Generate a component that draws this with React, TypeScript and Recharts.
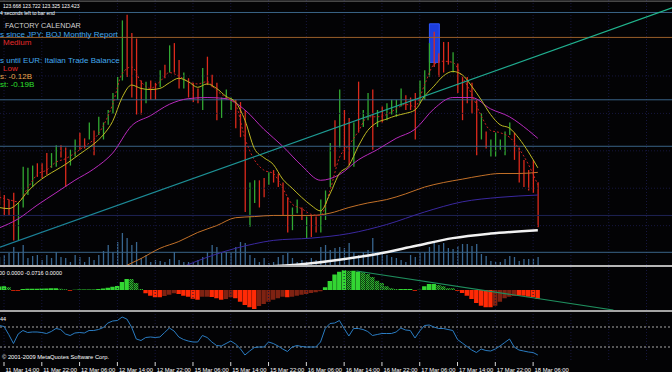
import React from 'react';
import { ComposedChart, Bar, Line, XAxis, YAxis, ReferenceLine, ReferenceArea, Cell } from 'recharts';

// ---------- price data (EURJPY H1) ----------
const highs = [
  123.65, 123.61, 123.57, 123.63, 123.54, 123.86, 123.85, 123.87, 123.89, 123.89,
  123.98, 123.98, 124.05, 124.05, 124.03, 124.01, 124.10, 124.16, 124.11, 124.25,
  124.18, 124.30, 124.25, 124.36, 124.51, 124.65, 125.15, 125.20, 125.04, 124.99,
  124.62, 124.61, 124.62, 124.60, 124.71, 124.76, 124.93, 124.95, 124.80, 124.69,
  124.64, 124.60, 124.55, 124.73, 124.83, 124.67, 124.60, 124.47, 124.54, 124.47,
  124.45, 124.43, 124.36, 123.72, 123.74, 123.74, 123.76, 123.81, 123.83, 123.80,
  123.72, 123.59, 123.50, 123.57, 123.50, 123.42, 123.43, 123.42, 123.57, 123.65,
  124.07, 124.27, 124.54, 124.36, 124.29, 124.25, 124.61, 124.36, 124.51, 124.54,
  124.36, 124.39, 124.42, 124.45, 124.45, 124.55, 124.49, 124.47, 124.51, 124.62,
  124.71, 124.95, 125.05, 124.86, 124.96, 124.96, 124.87, 124.77, 124.65, 124.65,
  124.60, 124.45, 124.33, 124.17, 124.10, 124.16, 124.10, 124.17, 124.25, 124.16,
  124.03, 123.92, 123.83, 123.92, 123.722,
];
const lows = [
  123.52, 123.43, 123.43, 123.21, 123.21, 123.50, 123.61, 123.68, 123.77, 123.76,
  123.79, 123.85, 123.86, 123.94, 123.68, 123.87, 123.95, 124.01, 124.02, 124.10,
  123.96, 124.14, 124.10, 124.23, 124.33, 124.45, 124.62, 124.65, 124.47, 124.32,
  124.32, 124.42, 124.45, 124.45, 124.56, 124.64, 124.69, 124.69, 124.55, 124.55,
  124.47, 124.43, 124.42, 124.36, 124.58, 124.56, 124.27, 124.29, 124.45, 124.36,
  124.20, 124.12, 123.46, 123.33, 123.54, 123.50, 123.59, 123.70, 123.72, 123.68,
  123.43, 123.28, 123.30, 123.45, 123.39, 123.23, 123.24, 123.28, 123.28, 123.39,
  123.68, 123.86, 124.03, 123.92, 123.87, 123.86, 124.16, 124.21, 124.27, 124.01,
  124.21, 124.25, 124.27, 124.32, 124.30, 124.39, 124.36, 124.36, 124.10, 124.42,
  124.45, 124.65, 124.74, 124.65, 124.69, 124.76, 124.69, 124.51, 124.27, 124.42,
  124.33, 123.96, 124.10, 124.02, 123.95, 123.95, 124.01, 123.96, 124.14, 123.92,
  123.72, 123.68, 123.65, 123.63, 123.325,
];
// u = bullish bar, d = bearish bar
const candleDirs = (
  'dddduuuudd' + 'duudduuddu' + 'duuuuuuddd' + 'duddududdu' + 'ddduddduuu' +
  'ddduuddudd' + 'dduududduu' + 'ududduduud' + 'uduuuudddu' + 'uudddduddd' +
  'dduduuuuud' + 'ddddd'
).split('');
const volumes = [
  320, 400, 480, 720, 520, 800, 280, 360, 400, 200,
  400, 280, 520, 320, 280, 120, 400, 320, 120, 320,
  200, 400, 560, 800, 520, 920, 1280, 1080, 800, 920,
  280, 400, 120, 200, 160, 120, 240, 520, 200, 120,
  120, 80, 200, 320, 520, 800, 720, 480, 520, 480,
  720, 920, 880, 400, 280, 120, 280, 80, 120, 320,
  400, 480, 280, 120, 200, 120, 280, 200, 720, 800,
  600, 680, 720, 680, 880, 520, 400, 520, 600, 1080,
  520, 480, 400, 320, 280, 200, 120, 400, 320, 480,
  520, 720, 920, 800, 880, 680, 640, 760, 840, 840,
  760, 840, 440, 360, 160, 120, 120, 240, 360, 320,
  160, 240, 240, 240, 320,
];

// ---------- moving averages (read at sampled bars) ----------
const fastBars = Array.from({ length: 58 }, (_, k) => k * 2);
const yellowMA = [
  123.50, 123.49, 123.54, 123.64, 123.72, 123.78, 123.83, 123.88, 123.94, 124.00,
  124.06, 124.14, 124.26, 124.47, 124.58, 124.55, 124.54, 124.55, 124.60, 124.64,
  124.61, 124.56, 124.59, 124.55, 124.48, 124.43, 124.27, 124.02, 123.94, 123.88,
  123.75, 123.67, 123.59, 123.52, 123.47, 123.62, 123.80, 123.87, 124.04, 124.18,
  124.25, 124.28, 124.31, 124.33, 124.36, 124.48, 124.57, 124.66, 124.70, 124.67,
  124.57, 124.45, 124.32, 124.23, 124.20, 124.11, 123.99, 123.85,
];
const redMA = [
  123.59, 123.57, 123.55, 123.67, 123.79, 123.83, 123.90, 123.93, 123.98, 124.04,
  124.10, 124.22, 124.41, 124.68, 124.74, 124.61, 124.55, 124.61, 124.69, 124.66,
  124.61, 124.59, 124.61, 124.53, 124.47, 124.41, 124.11, 123.92, 123.83, 123.80,
  123.67, 123.53, 123.49, 123.44, 123.43, 123.65, 123.94, 124.05, 124.17, 124.30,
  124.30, 124.32, 124.37, 124.41, 124.39, 124.58, 124.76, 124.79, 124.78, 124.65,
  124.50, 124.31, 124.18, 124.16, 124.12, 124.02, 123.88, 123.70,
];
const magentaBars = [0, 4, 8, 12, 16, 20, 24, 28, 32, 36, 40, 44, 48, 52, 56, 60, 64, 68, 72, 76, 80, 84, 88, 92, 96, 100, 104, 108, 112, 114];
const magentaMA = [
  123.32, 123.40, 123.52, 123.63, 123.74, 123.84, 123.98, 124.22, 124.31, 124.41,
  124.46, 124.47, 124.46, 124.36, 124.19, 124.04, 123.87, 123.74, 123.79, 123.92,
  124.01, 124.11, 124.19, 124.37, 124.47, 124.47, 124.37, 124.30, 124.18, 124.11,
];
const orangeBars = [27, 30, 34, 38, 42, 46, 50, 54, 58, 62, 66, 70, 74, 78, 82, 86, 90, 94, 98, 102, 106, 110, 114];
const orangeMA = [
  122.99, 123.05, 123.14, 123.20, 123.28, 123.34, 123.41, 123.42, 123.43, 123.43,
  123.43, 123.45, 123.50, 123.54, 123.57, 123.62, 123.68, 123.72, 123.75, 123.78,
  123.80, 123.80, 123.81,
];
const purpleBars = [39, 42, 46, 50, 54, 58, 66, 74, 82, 90, 98, 106, 114];
const purpleMA = [122.98, 123.03, 123.09, 123.14, 123.18, 123.21, 123.23, 123.27, 123.35, 123.46, 123.55, 123.59, 123.61];
const whiteBars = [57, 64, 72, 80, 88, 96, 104, 114];
const whiteMA = [122.98, 123.00, 123.04, 123.09, 123.16, 123.23, 123.27, 123.30];

// ---------- oscillators ----------
const osma = [
  0.028, 0.030, 0.022, -0.006, -0.006, 0.008, 0.010, 0.010, 0.010, 0.012,
  0.012, 0.014, 0.014, 0.010, 0.006, -0.006, 0.002, 0.004, 0.004, 0.004,
  0.004, 0.008, 0.012, 0.018, 0.026, 0.032, 0.064, 0.088, 0.088, 0.056,
  0.008, -0.026, -0.046, -0.058, -0.058, -0.048, -0.038, -0.026, -0.032, -0.046,
  -0.054, -0.070, -0.078, -0.054, -0.054, -0.056, -0.066, -0.078, -0.072, -0.058,
  -0.066, -0.094, -0.120, -0.138, -0.152, -0.128, -0.112, -0.094, -0.078, -0.066,
  -0.054, -0.058, -0.054, -0.046, -0.038, -0.032, -0.024, -0.018, -0.010, 0.022,
  0.072, 0.124, 0.146, 0.158, 0.154, 0.154, 0.146, 0.142, 0.128, 0.104,
  0.074, 0.056, 0.030, 0.014, 0.008, 0.008, 0.008, 0.008, -0.006, 0.002,
  0.030, 0.048, 0.048, 0.040, 0.030, 0.014, 0.014, -0.006, -0.024, -0.046,
  -0.072, -0.104, -0.126, -0.138, -0.138, -0.126, -0.094, -0.066, -0.054, -0.048,
  -0.046, -0.046, -0.054, -0.058, -0.0716,
];
// b = bright colour, d = dark colour
const osmaShade = (
  'bbdbbbbbbb' + 'bbbddbbbbb' + 'bbbbbbbbdd' + 'dbbbbdddbb' + 'bbbddbbbdd' +
  'bbbbbddddd' + 'dbdddddddb' + 'bbbbdbbddd' + 'dddddbbbbb' + 'bbbddddbbb' +
  'bbbbbddddd' + 'bbbbb'
).split('');
const rsi = [
  73, 71, 55, 37, 56, 63, 59, 60, 60, 59,
  57, 61, 67, 65, 56, 53, 58, 59, 58, 63,
  63, 65, 69, 78, 82, 83, 90, 86, 70, 46,
  43, 49, 50, 49, 50, 59, 68, 62, 50, 45,
  42, 40, 40, 53, 49, 40, 33, 32, 37, 42,
  36, 27, 14, 22, 29, 30, 30, 40, 37, 32,
  26, 21, 30, 33, 31, 30, 30, 30, 40, 67,
  77, 78, 83, 67, 52, 67, 67, 65, 61, 53,
  55, 57, 57, 57, 60, 68, 64, 63, 48, 62,
  73, 74, 70, 67, 67, 65, 63, 45, 38, 31,
  24, 19, 26, 23, 22, 26, 32, 39, 46, 30,
  24, 22, 20, 19, 14,
];

// ---------- axis / objects ----------
const tickBars = [1, 9, 17, 25, 33, 41, 49, 57, 65, 73, 81, 89, 97, 105, 113];
const tickLabels = [
  '11 Mar 14:00', '11 Mar 22:00', '12 Mar 06:00', '12 Mar 14:00', '12 Mar 22:00',
  '15 Mar 06:00', '15 Mar 14:00', '15 Mar 22:00', '16 Mar 06:00', '16 Mar 14:00',
  '16 Mar 22:00', '17 Mar 06:00', '17 Mar 14:00', '17 Mar 22:00', '18 Mar 06:00',
];
const gridBars = [...tickBars, 121, 129, 137];
const gridPrices = [123.34, 123.67, 124.0, 124.33, 124.66];
const levelLines = [
  { price: 125.32, color: '#6e6e6e' },
  { price: 125.22, color: '#3a6487' },
  { price: 125.0, color: '#9a5f2a' },
  { price: 124.45, color: '#3a6487' },
  { price: 124.04, color: '#3a6487' },
  { price: 123.43, color: '#1e2354' },
  { price: 123.105, color: '#3a6487' },
];
const eventBox = { x1: 91.05, x2: 93.15, y1: 124.78, y2: 125.12 };
const priceTrend = [{ x: 0.152, y: 123.15 }, { x: 142.4, y: 125.26 }];
const osmaTrend = [{ x: 75.6, y: 0.152 }, { x: 130, y: -0.16 }];

const X_DOMAIN: [number, number] = [0.152, 142.4];
const PRICE_DOMAIN: [number, number] = [122.993, 125.33];
const VOL_DOMAIN: [number, number] = [0, 10600];
const OSMA_DOMAIN: [number, number] = [-0.16, 0.184];
const RSI_DOMAIN: [number, number] = [4, 100];

const GRID = '#17173f';
const FONT = '"Liberation Sans", Arial, sans-serif';

const candles = highs.map((h, i) => ({
  i,
  range: [lows[i], h],
  up: candleDirs[i] === 'u',
  vol: volumes[i],
  osma: osma[i],
  shade: osmaShade[i],
  rsi: rsi[i],
}));
const series = (bars: number[], vals: number[]) => bars.map((b, k) => ({ i: b, v: vals[k] }));

const margin = { top: 0, right: 0, bottom: 0, left: 0 };

function TimeTick(props: any) {
  const { x, y, payload } = props;
  const idx = tickBars.indexOf(payload.value);
  return (
    <g>
      <line x1={x} x2={x} y1={y} y2={y + 4} stroke="#d8d8d8" strokeWidth={1} />
      <text x={x + 1.5} y={y + 9.5} fill="#ffffff" fontSize={5.8} fontFamily={FONT}>
        {tickLabels[idx]}
      </text>
    </g>
  );
}

export default function App() {
  const vGrid = gridBars.map((b) => (
    <ReferenceLine key={'g' + b} x={b} stroke={GRID} strokeDasharray="1 2" ifOverflow="visible" />
  ));
  return (
    <div
      style={{
        position: 'fixed', left: 0, top: 0, width: 672, height: 372,
        background: '#030305', overflow: 'hidden', fontFamily: FONT,
      }}
    >
      {/* volume layer */}
      <div style={{ position: 'absolute', left: 0, top: 0 }}>
        <ComposedChart width={672} height={265} data={candles} margin={margin}>
          <XAxis dataKey="i" type="number" domain={X_DOMAIN} hide allowDataOverflow />
          <YAxis domain={VOL_DOMAIN} hide allowDataOverflow />
          {vGrid}
          <Bar dataKey="vol" barSize={1.3} fill="#386690" isAnimationActive={false} />
        </ComposedChart>
      </div>

      {/* price layer */}
      <div style={{ position: 'absolute', left: 0, top: 0 }}>
        <ComposedChart width={672} height={265} data={candles} margin={margin}>
          <defs>
            <linearGradient id="trendGrad" x1="0" y1="0" x2="1" y2="0">
              <stop offset="0%" stopColor="#1a7e98" />
              <stop offset="100%" stopColor="#20b88c" />
            </linearGradient>
          </defs>
          <XAxis dataKey="i" type="number" domain={X_DOMAIN} hide allowDataOverflow />
          <YAxis domain={PRICE_DOMAIN} hide allowDataOverflow />
          {gridPrices.map((p) => (
            <ReferenceLine key={'gp' + p} y={p} stroke={GRID} strokeDasharray="1 2" />
          ))}
          {levelLines.map((l) => (
            <ReferenceLine key={'l' + l.price} y={l.price} stroke={l.color} strokeWidth={1} />
          ))}
          <ReferenceArea
            x1={eventBox.x1} x2={eventBox.x2} y1={eventBox.y1} y2={eventBox.y2}
            fill="#1c3ddc" fillOpacity={1} stroke="#2f58ff" strokeWidth={1}
          />
          <Bar dataKey="range" barSize={1.3} isAnimationActive={false}>
            {candles.map((c) => (
              <Cell key={'c' + c.i} fill={c.up ? '#32a832' : '#dc2a1c'} />
            ))}
          </Bar>
          <Line data={series(whiteBars, whiteMA)} dataKey="v" type="monotone" stroke="#f2f2f2" strokeWidth={2.5} dot={false} activeDot={false} isAnimationActive={false} />
          <Line data={series(purpleBars, purpleMA)} dataKey="v" type="monotone" stroke="#3a28a0" strokeWidth={1} dot={false} activeDot={false} isAnimationActive={false} />
          <Line data={series(orangeBars, orangeMA)} dataKey="v" type="monotone" stroke="#c27028" strokeWidth={1} dot={false} activeDot={false} isAnimationActive={false} />
          <Line data={series(magentaBars, magentaMA)} dataKey="v" type="monotone" stroke="#b82abc" strokeWidth={1} dot={false} activeDot={false} isAnimationActive={false} />
          <Line data={series(fastBars, redMA)} dataKey="v" type="monotone" stroke="#c82020" strokeWidth={1} strokeDasharray="2 2" dot={false} activeDot={false} isAnimationActive={false} />
          <Line data={series(fastBars, yellowMA)} dataKey="v" type="monotone" stroke="#bdb822" strokeWidth={1} dot={false} activeDot={false} isAnimationActive={false} />
          <ReferenceLine segment={priceTrend} stroke="url(#trendGrad)" strokeWidth={1.2} ifOverflow="visible" />
        </ComposedChart>
      </div>

      {/* OsMA pane */}
      <div style={{ position: 'absolute', left: 0, top: 267 }}>
        <ComposedChart width={672} height={43} data={candles} margin={margin}>
          <defs>
            <pattern id="chk" width="2" height="2" patternUnits="userSpaceOnUse">
              <rect width="2" height="2" fill="#0d3f10" />
              <rect width="1" height="1" fill="#2fb52f" />
              <rect x="1" y="1" width="1" height="1" fill="#2fb52f" />
            </pattern>
          </defs>
          <XAxis dataKey="i" type="number" domain={X_DOMAIN} hide allowDataOverflow />
          <YAxis domain={OSMA_DOMAIN} hide allowDataOverflow />
          {vGrid}
          <Bar dataKey="osma" barSize={4.4} isAnimationActive={false}>
            {candles.map((c) => {
              const pos = c.osma >= 0;
              const fill = pos
                ? c.shade === 'b' ? '#33d633' : 'url(#chk)'
                : c.shade === 'b' ? '#ff2a06' : '#7e2212';
              return <Cell key={'o' + c.i} fill={fill} />;
            })}
          </Bar>
          <ReferenceLine segment={osmaTrend} stroke="#1f8e5e" strokeWidth={1.2} ifOverflow="visible" />
        </ComposedChart>
      </div>

      {/* RSI pane + time axis */}
      <div style={{ position: 'absolute', left: 0, top: 312 }}>
        <ComposedChart width={672} height={60} data={candles} margin={margin}>
          <XAxis
            dataKey="i" type="number" domain={X_DOMAIN} allowDataOverflow height={12}
            ticks={tickBars} interval={0} axisLine={false} tickLine={false} tickSize={0}
            tick={<TimeTick />}
          />
          <YAxis domain={RSI_DOMAIN} hide allowDataOverflow />
          {vGrid}
          <ReferenceLine y={70} stroke="#a8a8a8" strokeDasharray="2 2" />
          <ReferenceLine y={30} stroke="#a8a8a8" strokeDasharray="2 2" />
          <Line dataKey="rsi" type="linear" stroke="#2a7cc2" strokeWidth={1} dot={false} activeDot={false} isAnimationActive={false} />
        </ComposedChart>
      </div>

      {/* pane separators */}
      <div style={{ position: 'absolute', left: 0, top: 265, width: 672, height: 2, background: '#b6b6b6' }} />
      <div style={{ position: 'absolute', left: 0, top: 310, width: 672, height: 2, background: '#a4a4a4' }} />

      {/* text objects */}
      <svg width={672} height={372} style={{ position: 'absolute', left: 0, top: 0, pointerEvents: 'none' }}>
        <g fontFamily={FONT}>
          <text x={3} y={7.5} fontSize={5} fill="#ffffff">123.668 123.722 123.325 123.423</text>
          <text x={0} y={14.5} fontSize={5} fill="#ffffff">4 seconds left to bar end</text>
          <text x={5} y={28} fontSize={7.3} fill="#d0d0d0">FACTORY CALENDAR</text>
          <text x={0} y={36.5} fontSize={8} fill="#42a9ee">s since JPY: BOJ Monthly Report</text>
          <text x={3} y={45} fontSize={8} fill="#e52a2a">Medium</text>
          <text x={0} y={62.5} fontSize={8} fill="#42a9ee">s until EUR: Italian Trade Balance</text>
          <text x={3} y={70.5} fontSize={8} fill="#e52a2a">Low</text>
          <text x={0} y={79} fontSize={8} fill="#e8a64c">s: -0.12B</text>
          <text x={0} y={87} fontSize={8} fill="#2ee02e">st: -0.19B</text>
          <text x={-1} y={274.5} fontSize={5.5} fill="#ffffff">00 0.0000 -0.0716 0.0000</text>
          <text x={0} y={320.5} fontSize={5.5} fill="#ffffff">44</text>
          <text x={2} y={359} fontSize={5.8} fill="#ffffff">© 2001-2009 MetaQuotes Software Corp.</text>
        </g>
      </svg>
    </div>
  );
}
